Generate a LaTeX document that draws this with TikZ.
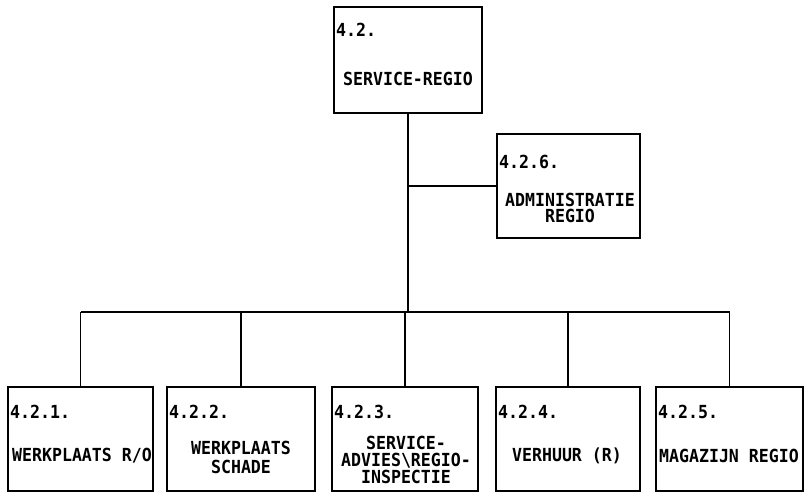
\documentclass[tikz,border=0pt]{standalone}
\usepackage{fontspec}
\newfontfamily\orgfont[FakeStretch=0.92]{DejaVu Sans Mono}
\begin{document}
\begin{tikzpicture}[x=1bp,y=-1bp,
  unit/.style={draw=black, line width=1.9bp, minimum width=#1, minimum height=104bp, inner sep=0pt},
  num/.style={anchor=west, inner sep=0pt, font=\orgfont\bfseries\fontsize{18bp}{18bp}\selectfont},
  lbl/.style={inner sep=0pt, align=center, font=\orgfont\bfseries\fontsize{18bp}{19bp}\selectfont},
  conn/.style={line width=1.4bp},
  busline/.style={line width=2bp}]
\useasboundingbox (0,0) rectangle (806,495);

% boxes
\node[unit=148bp, minimum height=106bp] (top) at (408,60) {};
\node[unit=143bp] (adm) at (568.5,186) {};
\node[unit=145bp] (b1) at (80.5,439) {};
\node[unit=148bp] (b2) at (241,439) {};
\node[unit=146bp] (b3) at (405,439) {};
\node[unit=144bp] (b4) at (568,439) {};
\node[unit=147bp] (b5) at (729.5,439) {};

% connectors
\coordinate (busL) at (80.5,312);
\coordinate (busR) at (729.5,312);
\draw[conn] (top.south) -- (top.south |- busL);
\draw[conn] (adm.west) -- (adm.west -| top.south);
\draw[busline] (busL) -- (busR);
\foreach \b in {b1,b2,b3,b4,b5}
  \draw[conn] (\b.north) -- (\b.north |- busL);

% texts
\node[num] (ttop) at (336,30) {4.2.};
\node[lbl] (ltop) at (408,79) {SERVICE-REGIO};

\node[num] (tadm) at (499,162) {4.2.6.};
\node[lbl, font=\orgfont\bfseries\fontsize{18bp}{16.5bp}\selectfont] (ladm) at (570,208) {ADMINISTRATIE\\REGIO};

\node[num] (tb1) at (10,412) {4.2.1.};
\begin{scope}
  \clip (b1.south west) rectangle (b1.north east);
  \node[lbl, anchor=west] (lb1) at (12,456) {WERKPLAATS R/O};
\end{scope}

\node[num] (tb2) at (169,412) {4.2.2.};
\node[lbl] (lb2) at (241,457) {WERKPLAATS\\SCHADE};

\node[num] (tb3) at (334,412) {4.2.3.};
\node[lbl, font=\orgfont\bfseries\fontsize{18bp}{17bp}\selectfont] (lb3) at (406,460) {SERVICE-\\ADVIES\textbackslash REGIO-\\INSPECTIE};

\node[num] (tb4) at (498,412) {4.2.4.};
\node[lbl] (lb4) at (567,456) {VERHUUR (R)};

\node[num] (tb5) at (658,412) {4.2.5.};
\begin{scope}
  \clip (b5.south west) rectangle (b5.north east);
  \node[lbl, anchor=west] (lb5) at (659,456) {MAGAZIJN REGIO};
\end{scope}
\end{tikzpicture}
\end{document}
